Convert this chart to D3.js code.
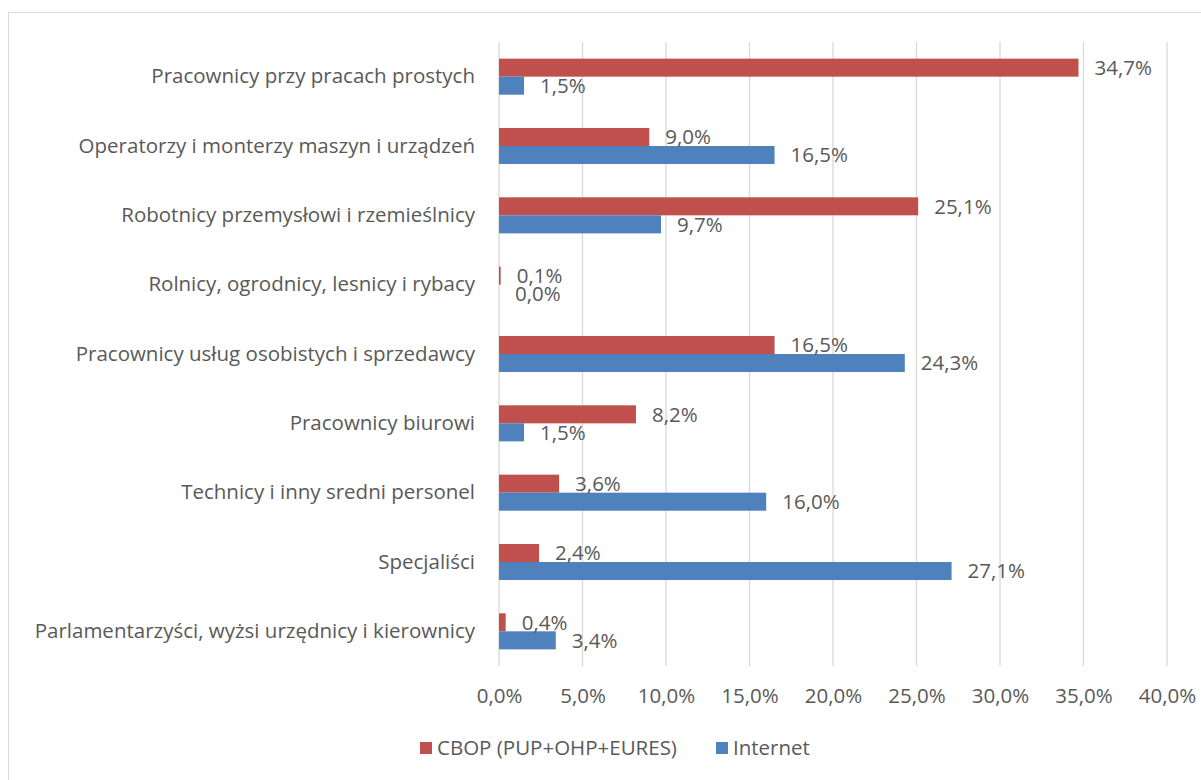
<!DOCTYPE html>
<html>
<head>
<meta charset="utf-8">
<script src="https://cdn.jsdelivr.net/npm/d3@7"></script>
<style>
  body { margin: 0; background: #fff; }
  text { font-family: "Open Sans", Lato, sans-serif; fill: #595959; }
</style>
</head>
<body>
<div id="chart"></div>
<script>
const categories = [
    "Pracownicy przy pracach prostych",
    "Operatorzy i monterzy maszyn i urządzeń",
    "Robotnicy przemysłowi i rzemieślnicy",
    "Rolnicy, ogrodnicy, lesnicy i rybacy",
    "Pracownicy usług osobistych i sprzedawcy",
    "Pracownicy biurowi",
    "Technicy i inny sredni personel",
    "Specjaliści",
    "Parlamentarzyści, wyżsi urzędnicy i kierownicy"
];
const cbop = [34.7, 9.0, 25.1, 0.1, 16.5, 8.2, 3.6, 2.4, 0.4];
const internet = [1.5, 16.5, 9.7, 0.0, 24.3, 1.5, 16.0, 27.1, 3.4];
const seriesNames = ["CBOP (PUP+OHP+EURES)", "Internet"];
const seriesColors = ["#c0504d", "#4f81bd"];
const xTicks = [0, 5, 10, 15, 20, 25, 30, 35, 40];

const width = 1201, height = 780;
const margin = { top: 42, left: 499, right: 34, bottom: 114 };
const fontSize = "20.5px";
const fmt = v => v.toFixed(1).replace(".", ",") + "%";

const svg = d3.select("#chart")
    .append("svg")
    .attr("width", width)
    .attr("height", height);

// chart border
svg.append("rect")
    .attr("x", 8.5).attr("y", 12.5)
    .attr("width", width + 10).attr("height", height + 10)
    .attr("fill", "none")
    .attr("stroke", "#d9d9d9");

const x = d3.scaleLinear()
    .domain([0, 40])
    .range([margin.left, width - margin.right]);

const y = d3.scaleBand()
    .domain(categories)
    .range([margin.top, height - margin.bottom])
    .paddingInner(0.48)
    .paddingOuter(0.24);

const inner = d3.scaleBand()
    .domain([0, 1])
    .range([0, y.bandwidth()]);

// gridlines
svg.append("g")
    .selectAll("line")
    .data(xTicks)
    .enter()
    .append("line")
    .attr("x1", d => x(d)).attr("x2", d => x(d))
    .attr("y1", margin.top).attr("y2", height - margin.bottom)
    .attr("stroke", "#d9d9d9")
    .attr("stroke-width", 1.3);

// x axis labels
const xAxis = d3.axisBottom(x).tickValues(xTicks).tickFormat(fmt).tickSize(0).tickPadding(22);
const gx = svg.append("g")
    .attr("transform", `translate(0,${height - margin.bottom})`)
    .call(xAxis);
gx.select(".domain").remove();
gx.selectAll("text")
    .style("font-size", fontSize)
    .style("font-family", "'Open Sans', sans-serif")
    .attr("fill", "#595959");

// category labels
const yAxis = d3.axisLeft(y).tickSize(0).tickPadding(24);
const gy = svg.append("g")
    .attr("transform", `translate(${margin.left},0)`)
    .call(yAxis);
gy.select(".domain").remove();
gy.selectAll("text")
    .style("font-size", fontSize)
    .style("font-family", "'Open Sans', sans-serif")
    .attr("fill", "#595959");

const rows = categories.map((c, i) => ({ cat: c, vals: [cbop[i], internet[i]] }));

const groups = svg.append("g")
    .selectAll("g")
    .data(rows)
    .enter()
    .append("g")
    .attr("transform", d => `translate(0,${y(d.cat)})`);

groups.selectAll("rect")
    .data(d => d.vals.map((v, s) => ({ v, s })))
    .enter()
    .append("rect")
    .attr("x", x(0))
    .attr("y", d => inner(d.s))
    .attr("width", d => x(d.v) - x(0))
    .attr("height", inner.bandwidth())
    .attr("fill", d => seriesColors[d.s]);

groups.selectAll("text.lbl")
    .data(d => d.vals.map((v, s) => ({ v, s })))
    .enter()
    .append("text")
    .attr("class", "lbl")
    .attr("x", d => x(d.v) + 16)
    .attr("y", d => inner(d.s) + inner.bandwidth() / 2)
    .attr("dy", "0.35em")
    .style("font-size", fontSize)
    .text(d => fmt(d.v));

// legend
const legend = svg.append("g").attr("transform", "translate(420,748)");
const legX = [0, 296];
seriesNames.forEach((name, i) => {
    legend.append("rect")
        .attr("x", legX[i]).attr("y", -6)
        .attr("width", 12).attr("height", 12)
        .attr("fill", seriesColors[i]);
    legend.append("text")
        .attr("x", legX[i] + 17).attr("y", 0)
        .attr("dy", "0.35em")
        .style("font-size", fontSize)
        .text(name);
});
</script>
</body>
</html>
